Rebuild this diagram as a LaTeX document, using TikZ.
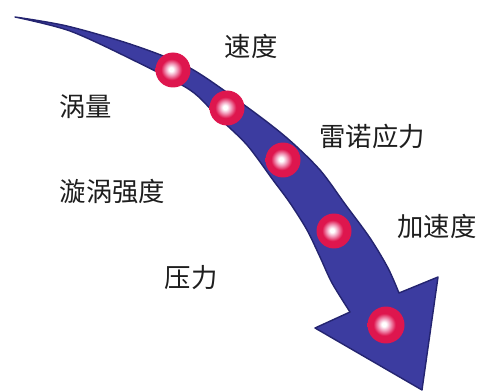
\documentclass[tikz,border=0pt]{standalone}
\usepackage{fontspec}
\usepackage{tikz}
\newfontfamily\cjk{Noto Sans CJK SC}
\definecolor{arrowblue}{RGB}{60,60,160}
\definecolor{arrowedge}{RGB}{36,36,112}
\definecolor{ballred}{RGB}{222,22,78}
\definecolor{ballpink}{RGB}{242,160,190}
\definecolor{textgray}{RGB}{30,30,30}
\pgfdeclareradialshading{pearl}{\pgfpoint{-3bp}{1bp}}{color(0bp)=(white); color(3bp)=(white); color(8bp)=(ballpink); color(15bp)=(ballred); color(30bp)=(ballred); color(42bp)=(ballred!75!black); color(50bp)=(ballred!60!black)}

\begin{document}
\begin{tikzpicture}[x=0.02cm, y=-0.02cm,
	ball/.style={circle, minimum size=7mm, inner sep=0pt, shading=pearl},
	word/.style={font=\cjk\fontsize{15pt}{18pt}\selectfont, text=textgray, inner sep=0pt}]
	\useasboundingbox (0,0) rectangle (493,391);
	% curved arrow
	\fill[arrowblue, draw=arrowedge, line width=0.8pt, line join=round]
		plot[smooth] coordinates {(15,17) (67,26) (133,45) (190,68) (247,107) (287,138) (320,170) (345,204) (370,238) (388,268) (399,293)}
		-- (438,277) -- (422,390) -- (315,328) --
		plot[smooth] coordinates {(350,312) (332,283) (320,257) (307,230) (290,203) (273,180) (247,145) (218,117) (190,90) (133,60) (70,31) (15,17)}
		-- cycle;
	% balls on the arrow
	\node[ball] (p1) at (173,70) {};
	\node[ball] (p2) at (227,108) {};
	\node[ball] (p3) at (283,160) {};
	\node[ball] (p4) at (334,231) {};
	\node[ball, minimum size=7.4mm] (p5) at (386,325) {};
	% quantities
	\node[word] (t1) at (251,46) {速度};
	\node[word] (t2) at (85.5,107) {涡量};
	\node[word] (t3) at (372,136) {雷诺应力};
	\node[word] (t4) at (112.5,192) {漩涡强度};
	\node[word] (t5) at (437,226) {加速度};
	\node[word] (t6) at (191,278) {压力};
\end{tikzpicture}
\end{document}
